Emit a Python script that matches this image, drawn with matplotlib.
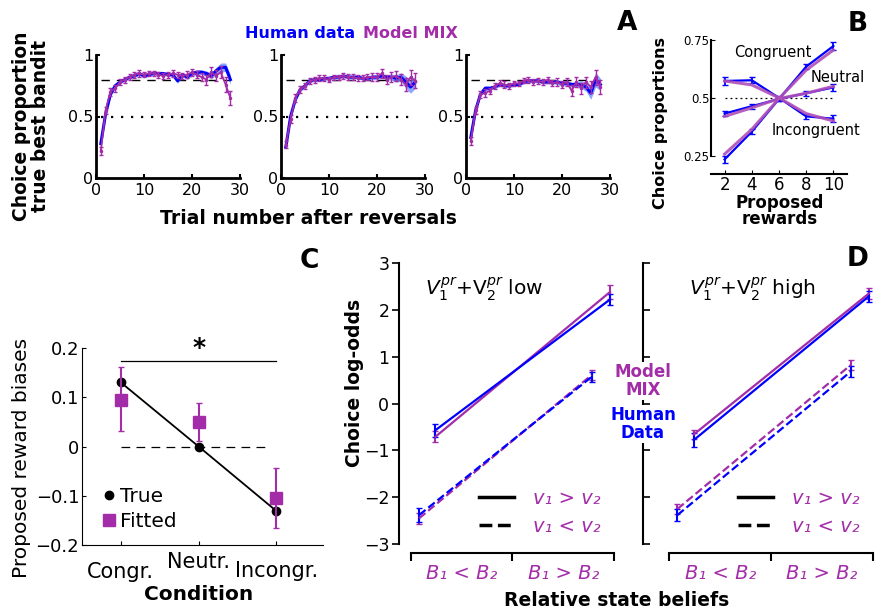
import matplotlib
matplotlib.use('Agg')
import matplotlib.pyplot as plt
from matplotlib.lines import Line2D
import numpy as np

W, H = 885, 613
plt.rcParams['font.family'] = ['DejaVu Sans']
plt.rcParams['axes.unicode_minus'] = True
fig = plt.figure(figsize=(W / 100, H / 100), dpi=100)


def add_ax(l, t, r, b):
    return fig.add_axes([l / W, 1 - b / H, (r - l) / W, (b - t) / H])


BLUE = '#0000FF'
PURPLE = '#A32CA8'
PURPLE_B = '#B050B8'
BAND = '#7090FF'

# ---------------- Panel A data ----------------
trials = np.arange(1, 29)
human_a = [
    [0.28, 0.52, 0.68, 0.75, 0.78, 0.80, 0.82, 0.83, 0.85, 0.83, 0.84, 0.85, 0.85, 0.85,
     0.84, 0.84, 0.79, 0.84, 0.82, 0.85, 0.86, 0.86, 0.85, 0.83, 0.87, 0.90, 0.90, 0.80],
    [0.25, 0.50, 0.64, 0.72, 0.75, 0.79, 0.80, 0.80, 0.81, 0.81, 0.82, 0.82, 0.83, 0.82,
     0.82, 0.82, 0.81, 0.81, 0.82, 0.82, 0.83, 0.82, 0.82, 0.81, 0.82, 0.78, 0.74, 0.78],
    [0.33, 0.55, 0.68, 0.73, 0.73, 0.74, 0.76, 0.75, 0.75, 0.76, 0.76, 0.78, 0.79, 0.79,
     0.79, 0.78, 0.78, 0.78, 0.78, 0.77, 0.77, 0.76, 0.76, 0.76, 0.74, 0.69, 0.80, 0.76],
]
human_a_err = [
    [0.02, 0.02, 0.02, 0.02, 0.015, 0.015, 0.015, 0.015, 0.015, 0.015, 0.015, 0.015, 0.015, 0.015,
     0.015, 0.015, 0.02, 0.015, 0.02, 0.02, 0.02, 0.02, 0.02, 0.025, 0.03, 0.035, 0.035, 0.04],
    [0.02, 0.02, 0.02, 0.02, 0.015, 0.015, 0.015, 0.015, 0.015, 0.015, 0.015, 0.015, 0.015, 0.015,
     0.015, 0.015, 0.015, 0.015, 0.02, 0.02, 0.02, 0.02, 0.025, 0.03, 0.035, 0.05, 0.05, 0.05],
    [0.02, 0.02, 0.02, 0.02, 0.015, 0.015, 0.015, 0.015, 0.015, 0.015, 0.015, 0.015, 0.015, 0.015,
     0.015, 0.015, 0.015, 0.015, 0.02, 0.02, 0.02, 0.02, 0.025, 0.03, 0.035, 0.05, 0.06, 0.05],
]
model_a = [
    [0.22, 0.55, 0.70, 0.73, 0.78, 0.80, 0.82, 0.84, 0.85, 0.84, 0.85, 0.85, 0.84, 0.83,
     0.84, 0.85, 0.84, 0.83, 0.84, 0.86, 0.84, 0.82, 0.80, 0.86, 0.83, 0.86, 0.76, 0.65],
    [0.27, 0.48, 0.65, 0.72, 0.75, 0.79, 0.80, 0.81, 0.81, 0.80, 0.82, 0.82, 0.83, 0.82,
     0.82, 0.81, 0.81, 0.82, 0.82, 0.82, 0.85, 0.80, 0.82, 0.83, 0.80, 0.76, 0.82, 0.79],
    [0.30, 0.55, 0.68, 0.69, 0.71, 0.75, 0.77, 0.76, 0.75, 0.77, 0.77, 0.79, 0.80, 0.78,
     0.79, 0.78, 0.80, 0.77, 0.78, 0.76, 0.78, 0.71, 0.78, 0.73, 0.78, 0.74, 0.82, 0.74],
]
model_a_err = [
    [0.03, 0.03, 0.03, 0.03, 0.025, 0.025, 0.025, 0.025, 0.025, 0.02, 0.02, 0.02, 0.025, 0.025,
     0.025, 0.025, 0.025, 0.025, 0.03, 0.03, 0.03, 0.035, 0.04, 0.04, 0.045, 0.05, 0.06, 0.06],
    [0.03, 0.03, 0.03, 0.03, 0.025, 0.025, 0.025, 0.025, 0.025, 0.02, 0.02, 0.02, 0.025, 0.025,
     0.025, 0.025, 0.025, 0.025, 0.03, 0.03, 0.035, 0.035, 0.04, 0.04, 0.045, 0.05, 0.06, 0.06],
    [0.03, 0.03, 0.03, 0.03, 0.025, 0.025, 0.025, 0.025, 0.025, 0.02, 0.02, 0.02, 0.025, 0.025,
     0.025, 0.025, 0.025, 0.025, 0.03, 0.03, 0.035, 0.045, 0.04, 0.045, 0.045, 0.05, 0.06, 0.06],
]
a_xticks = [0, 10, 20, 30]
a_yticks = [0, 0.5, 1]
a_yticklabels = ['0', '0.5', '1']
best_level = 0.8
chance_level = 0.5

# ---------------- Panel B data ----------------
rewards = [2, 4, 6, 8, 10]
b_human = {
    'Congruent': [0.234, 0.354, 0.495, 0.635, 0.724],
    'Neutral': [0.432, 0.464, 0.495, 0.520, 0.545],
    'Incongruent': [0.573, 0.576, 0.500, 0.420, 0.410],
}
b_human_err = {
    'Congruent': [0.015, 0.012, 0.01, 0.012, 0.018],
    'Neutral': [0.012, 0.01, 0.01, 0.01, 0.015],
    'Incongruent': [0.018, 0.012, 0.01, 0.01, 0.015],
}
b_model = {
    'Congruent': [0.257, 0.364, 0.497, 0.620, 0.707],
    'Neutral': [0.420, 0.457, 0.497, 0.520, 0.550],
    'Incongruent': [0.573, 0.556, 0.500, 0.432, 0.400],
}
b_yticks = [0.25, 0.5, 0.75]
b_yticklabels = ['0.25', '0.5', '0.75']

# ---------------- Panel C data ----------------
conditions = ['Congr.', 'Neutr.', 'Incongr.']
true_bias = [0.13, 0.0, -0.131]
fitted_bias = [0.095, 0.049, -0.104]
fitted_lo = [0.031, 0.011, -0.165]
fitted_hi = [0.161, 0.089, -0.043]
c_yticks = [-0.2, -0.1, 0, 0.1, 0.2]
c_yticklabels = ['\u22120.2', '\u22120.1', '0', '0.1', '0.2']

# ---------------- Panel D data ----------------
belief_labels = ['B\u2081 < B\u2082', 'B\u2081 > B\u2082']
x_solid = [0.24, 1.96]
x_dashed = [0.08, 1.78]
d_low = {
    'model_solid': [-0.71, 2.38], 'model_solid_err': [0.12, 0.15],
    'human_solid': [-0.57, 2.22], 'human_solid_err': [0.14, 0.12],
    'model_dashed': [-2.45, 0.61], 'model_dashed_err': [0.12, 0.10],
    'human_dashed': [-2.38, 0.57], 'human_dashed_err': [0.15, 0.10],
}
d_high = {
    'model_solid': [-0.66, 2.35], 'model_solid_err': [0.10, 0.12],
    'human_solid': [-0.78, 2.29], 'human_solid_err': [0.15, 0.12],
    'model_dashed': [-2.25, 0.82], 'model_dashed_err': [0.10, 0.10],
    'human_dashed': [-2.38, 0.68], 'human_dashed_err': [0.12, 0.12],
}
d_yticks = [-3, -2, -1, 0, 1, 2, 3]
d_yticklabels = ['\u22123', '\u22122', '\u22121', '0', '1', '2', '3']

# ================= Panel A =================
a_lefts = [96, 281, 466]
for i, l in enumerate(a_lefts):
    ax = add_ax(l, 55, l + 144, 178)
    h = np.array(human_a[i]); he = np.array(human_a_err[i])
    ax.fill_between(trials, h - he, h + he, color=BAND, lw=0, alpha=0.8, zorder=2)
    ax.plot(trials, h, color=BLUE, lw=2.2, zorder=3)
    ax.errorbar(trials, model_a[i], yerr=model_a_err[i], color=PURPLE, lw=1.3,
                elinewidth=1.0, capsize=1.2, marker='.', markersize=3, zorder=4)
    ax.hlines(best_level, 1, 28, colors='k', linestyles=(0, (6, 5)), lw=1.0, zorder=1)
    ax.hlines(chance_level, 1, 28, colors='k', linestyles=(0, (1, 3.5)), lw=1.6, zorder=1)
    ax.set_xlim(0, 30)
    ax.set_ylim(0, 1)
    ax.set_xticks(a_xticks)
    ax.set_yticks(a_yticks)
    ax.set_yticklabels(a_yticklabels)
    for s in ['top', 'right']:
        ax.spines[s].set_visible(False)
    for s in ['left', 'bottom']:
        ax.spines[s].set_linewidth(2.0)
    ax.tick_params(direction='in', length=3, width=1.5, labelsize=11.5, pad=2)
    ax.tick_params(axis='x', pad=3.5)
    ax.patch.set_alpha(0)

fig.text(31 / W, 1 - 126 / H, 'Choice proportion\ntrue best bandit', rotation=90,
         ha='center', va='center', fontsize=13.5, fontweight='bold', linespacing=0.95)
fig.text(308 / W, 1 - 218 / H, 'Trial number after reversals', ha='center', va='center',
         fontsize=13.5, fontweight='bold')
fig.text(300 / W, 1 - 33 / H, 'Human data', ha='center', va='center', color=BLUE,
         fontsize=11.5, fontweight='bold')
fig.text(410 / W, 1 - 33 / H, 'Model MIX', ha='center', va='center', color=PURPLE,
         fontsize=11.5, fontweight='bold')

# ================= Panel B =================
axB = add_ax(711, 40, 847, 174)
for k in ['Congruent', 'Neutral', 'Incongruent']:
    axB.errorbar(rewards, b_human[k], yerr=b_human_err[k], color=BLUE, lw=1.6,
                 elinewidth=1.3, capsize=2, zorder=3)
    axB.plot(rewards, b_model[k], color=PURPLE_B, lw=2.2, alpha=0.9, zorder=4)
axB.hlines(0.5, 2, 10, colors='k', linestyles=(0, (1.5, 2.5)), lw=0.9, zorder=1)
axB.set_xlim(1, 11)
axB.set_ylim(0.171, 0.75)
axB.spines['left'].set_bounds(0.25, 0.75)
for s in ['top', 'right']:
    axB.spines[s].set_visible(False)
for s in ['left', 'bottom']:
    axB.spines[s].set_linewidth(1.5)
axB.set_xticks(rewards)
axB.set_yticks(b_yticks)
axB.set_yticklabels(b_yticklabels)
axB.tick_params(axis='x', direction='in', length=3, labelsize=12, pad=1.5)
axB.tick_params(axis='y', direction='in', length=3, labelsize=8.5, pad=1)
axB.patch.set_alpha(0)
fig.text(773 / W, 1 - 52 / H, 'Congruent', fontsize=10.5, ha='center', va='center')
fig.text(838 / W, 1 - 77 / H, 'Neutral', fontsize=10.5, ha='center', va='center')
fig.text(816 / W, 1 - 130 / H, 'Incongruent', fontsize=10.5, ha='center', va='center')
fig.text(661 / W, 1 - 123 / H, 'Choice proportions', rotation=90, ha='center', va='center',
         fontsize=11.5, fontweight='bold')
fig.text(780 / W, 1 - 211 / H, 'Proposed\nrewards', ha='center', va='center',
         fontsize=12, fontweight='bold', linespacing=0.88)

# ================= Panel C =================
axC = add_ax(82, 348, 323, 545)
cx = np.arange(1, len(conditions) + 1)
axC.plot(cx, true_bias, color='k', lw=1.3, marker='o', markersize=6, zorder=3)
yerr = [np.array(fitted_bias) - np.array(fitted_lo), np.array(fitted_hi) - np.array(fitted_bias)]
axC.errorbar(cx, fitted_bias, yerr=yerr, color=PURPLE, lw=0, elinewidth=1.5, capsize=2,
             marker='s', markersize=9, zorder=4)
axC.plot([1, 2.9], [0, 0], color='k', lw=0.9, dashes=(7, 5), zorder=1)
axC.plot([1, 3], [0.173, 0.173], color='k', lw=0.9)
axC.text(2, 0.176, '*', ha='center', va='bottom', fontsize=18, fontweight='bold')
axC.set_xlim(0.5, 3.6)
axC.set_ylim(-0.2, 0.2)
axC.set_yticks(c_yticks)
axC.set_yticklabels(c_yticklabels)
axC.set_xticks(cx)
axC.set_xticklabels([])
for s in ['top', 'right']:
    axC.spines[s].set_visible(False)
axC.tick_params(direction='in', length=3, labelsize=13, pad=2)
axC.patch.set_alpha(0)
c_label_y = [-0.137, -0.087, -0.132]
for xi, lab, yy in zip(cx, conditions, c_label_y):
    axC.text(xi, yy, lab, transform=axC.get_xaxis_transform(), ha='center', va='center',
             fontsize=15)
fig.text(199 / W, 1 - 594 / H, 'Condition', ha='center', va='center', fontsize=14.5,
         fontweight='bold')
fig.text(22 / W, 1 - 458 / H, 'Proposed reward biases', rotation=90, ha='center',
         va='center', fontsize=14.5)
handles = [Line2D([], [], color='k', marker='o', ls='None', markersize=6),
           Line2D([], [], color=PURPLE, marker='s', ls='None', markersize=9)]
axC.legend(handles, ['True', 'Fitted'], loc='lower left', bbox_to_anchor=(0.03, 0.0),
           frameon=False, fontsize=14.5, handlelength=0.6, handletextpad=0.25,
           labelspacing=0.3, borderpad=0.2)


# ================= Panel D =================
def panel_d(l, r, xleft, data, ticks_out, title):
    ax = add_ax(l, 263, r, 553)
    for key, xs, ls in [('solid', x_solid, '-'), ('dashed', x_dashed, '--')]:
        for who, col in [('model', PURPLE), ('human', BLUE)]:
            ax.errorbar(xs, data[f'{who}_{key}'], yerr=data[f'{who}_{key}_err'], color=col,
                        lw=1.6, ls=ls, elinewidth=1.5, capsize=2, zorder=3)
    ax.set_xlim(xleft, 2)
    ax.set_ylim(-3.19, 3)
    ax.spines['left'].set_bounds(-3, 3)
    ax.spines['bottom'].set_bounds(0, 2)
    for s in ['top', 'right']:
        ax.spines[s].set_visible(False)
    for s in ['left', 'bottom']:
        ax.spines[s].set_linewidth(1.5)
    ax.set_yticks(d_yticks)
    ax.set_xticks([0, 1, 2])
    ax.set_xticklabels([])
    ax.tick_params(axis='x', direction='out', length=6, width=1.5)
    ax.tick_params(axis='y', direction='out' if ticks_out else 'in', length=5, width=1.2,
                   labelsize=12.5, pad=2)
    if ticks_out:
        ax.set_yticklabels(d_yticklabels)
    else:
        ax.set_yticklabels([])
    for xc, lab in zip([0.5, 1.5], belief_labels):
        ax.text(xc, -0.07, lab, transform=ax.get_xaxis_transform(), ha='center', va='center',
                fontsize=14, style='italic', color=PURPLE)
    ax.text(0.12 if ticks_out else 0.2, 0.91, title, transform=ax.transAxes, ha='left',
            va='center', fontsize=14.5)
    h = [Line2D([], [], color='k', lw=2.5, ls='-'), Line2D([], [], color='k', lw=2.5, ls='--')]
    ax.legend(h, ['v\u2081 > v\u2082', 'v\u2081 < v\u2082'], loc='lower right',
              bbox_to_anchor=(1.02, 0.0), frameon=False,
              prop={'size': 14, 'style': 'italic'}, labelcolor=PURPLE, handlelength=1.8,
              handletextpad=1.0, labelspacing=0.45)
    ax.patch.set_alpha(0)
    return ax


panel_d(399, 614, -0.118, d_low, True, '$V_1^{pr}$+V$_2^{pr}$ low')
panel_d(643, 873, -0.258, d_high, False, '$V_1^{pr}$+V$_2^{pr}$ high')

fig.text(355 / W, 1 - 383 / H, 'Choice log-odds', rotation=90, ha='center', va='center',
         fontsize=13.5, fontweight='bold')
fig.text(617 / W, 1 - 600 / H, 'Relative state beliefs', ha='center', va='center',
         fontsize=13.5, fontweight='bold')
fig.text(643 / W, 1 - 381 / H, 'Model\nMIX', ha='center', va='center', color=PURPLE,
         fontsize=12, fontweight='bold', linespacing=1.0,
         bbox=dict(facecolor='white', edgecolor='none', pad=0.5))
fig.text(643 / W, 1 - 424 / H, 'Human\nData', ha='center', va='center', color=BLUE,
         fontsize=12, fontweight='bold', linespacing=1.0,
         bbox=dict(facecolor='white', edgecolor='none', pad=0.5))

# panel letters
for lab, x, y in [('A', 627, 23), ('B', 858, 24), ('C', 309, 261), ('D', 858, 259)]:
    fig.text(x / W, 1 - y / H, lab, ha='center', va='center', fontsize=19, fontweight='bold')

fig.savefig('out.png', dpi=100)
